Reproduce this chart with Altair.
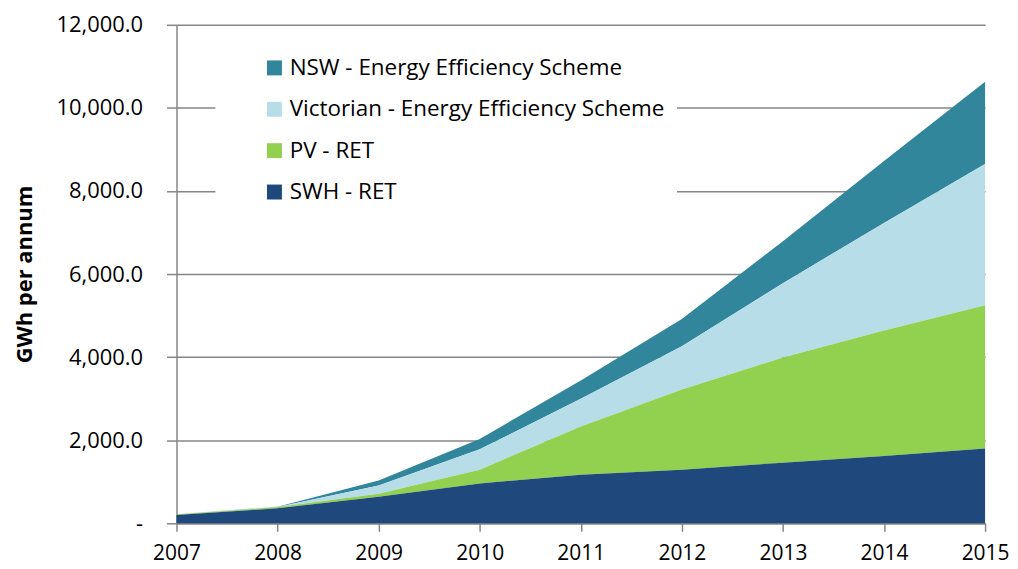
import altair as alt
import pandas as pd

years = [2007, 2008, 2009, 2010, 2011, 2012, 2013, 2014, 2015]
series_names = [
    "NSW - Energy Efficiency Scheme",
    "Victorian - Energy Efficiency Scheme",
    "PV - RET",
    "SWH - RET",
]
swh = [200, 360, 640, 960, 1170, 1290, 1460, 1620, 1800]
pv = [15, 30, 70, 330, 1160, 1930, 2530, 3020, 3450]
vic = [5, 5, 200, 490, 670, 1040, 1790, 2590, 3400]
nsw = [0, 5, 120, 250, 440, 660, 1010, 1490, 1980]
colors = ["#31869B", "#B7DEE8", "#92D050", "#1F497D"]
stack_rank = [3, 2, 1, 0]

values = {series_names[0]: nsw, series_names[1]: vic, series_names[2]: pv, series_names[3]: swh}
rows = []
for name, rank in zip(series_names, stack_rank):
    for yr, v in zip(years, values[name]):
        rows.append({"year": yr, "series": name, "value": v, "rank": rank})
df = pd.DataFrame(rows)

FONT = "Open Sans"
GRID = "#868686"
NB = "\u00a0"

chart = alt.Chart(df).mark_area(opacity=1).encode(
    x=alt.X("year:Q", scale=alt.Scale(domain=[2007, 2015], nice=False, zero=False),
            axis=alt.Axis(values=years, format="d", title=None, grid=False,
                          domainColor=GRID, domainWidth=1.5, tickColor=GRID, tickWidth=1.5,
                          tickSize=8, labelPadding=11, labelFontSize=21, labelFont=FONT,
                          labelColor="black", labelFlush=False)),
    y=alt.Y("value:Q", stack="zero", scale=alt.Scale(domain=[0, 12000], nice=False),
            axis=alt.Axis(values=[0, 2000, 4000, 6000, 8000, 10000, 12000],
                          labelExpr="datum.value == 0 ? '-" + NB + NB + NB + NB + "' : format(datum.value, ',.1f')",
                          title="GWh per annum", titleFont=FONT, titleFontSize=22,
                          titleFontWeight="bold", titleColor="black", titlePadding=19,
                          grid=True, gridColor=GRID, gridWidth=1.5,
                          domainColor=GRID, domainWidth=1.5, tickColor=GRID, tickWidth=1.5,
                          tickSize=10, labelPadding=24, labelFontSize=22, labelFont=FONT,
                          labelColor="black")),
    color=alt.Color("series:N", scale=alt.Scale(domain=series_names, range=colors),
                    legend=alt.Legend(title=None, orient="none", legendX=39, legendY=20,
                                      fillColor="white", padding=12, symbolType="square",
                                      symbolSize=225, symbolStrokeWidth=0, symbolOffset=36,
                                      labelFont=FONT, labelFontSize=22.5, labelColor="black",
                                      labelOffset=4, rowPadding=18.5, labelLimit=600)),
    order=alt.Order("rank:Q", sort="ascending"),
).properties(
    width=811, height=500,
    autosize=alt.AutoSizeParams(type="none"),
    padding={"left": 169, "top": 16, "right": 25, "bottom": 44},
).configure_view(stroke=None)

chart.save("out.html", embed_options={"renderer": "svg", "actions": False})
